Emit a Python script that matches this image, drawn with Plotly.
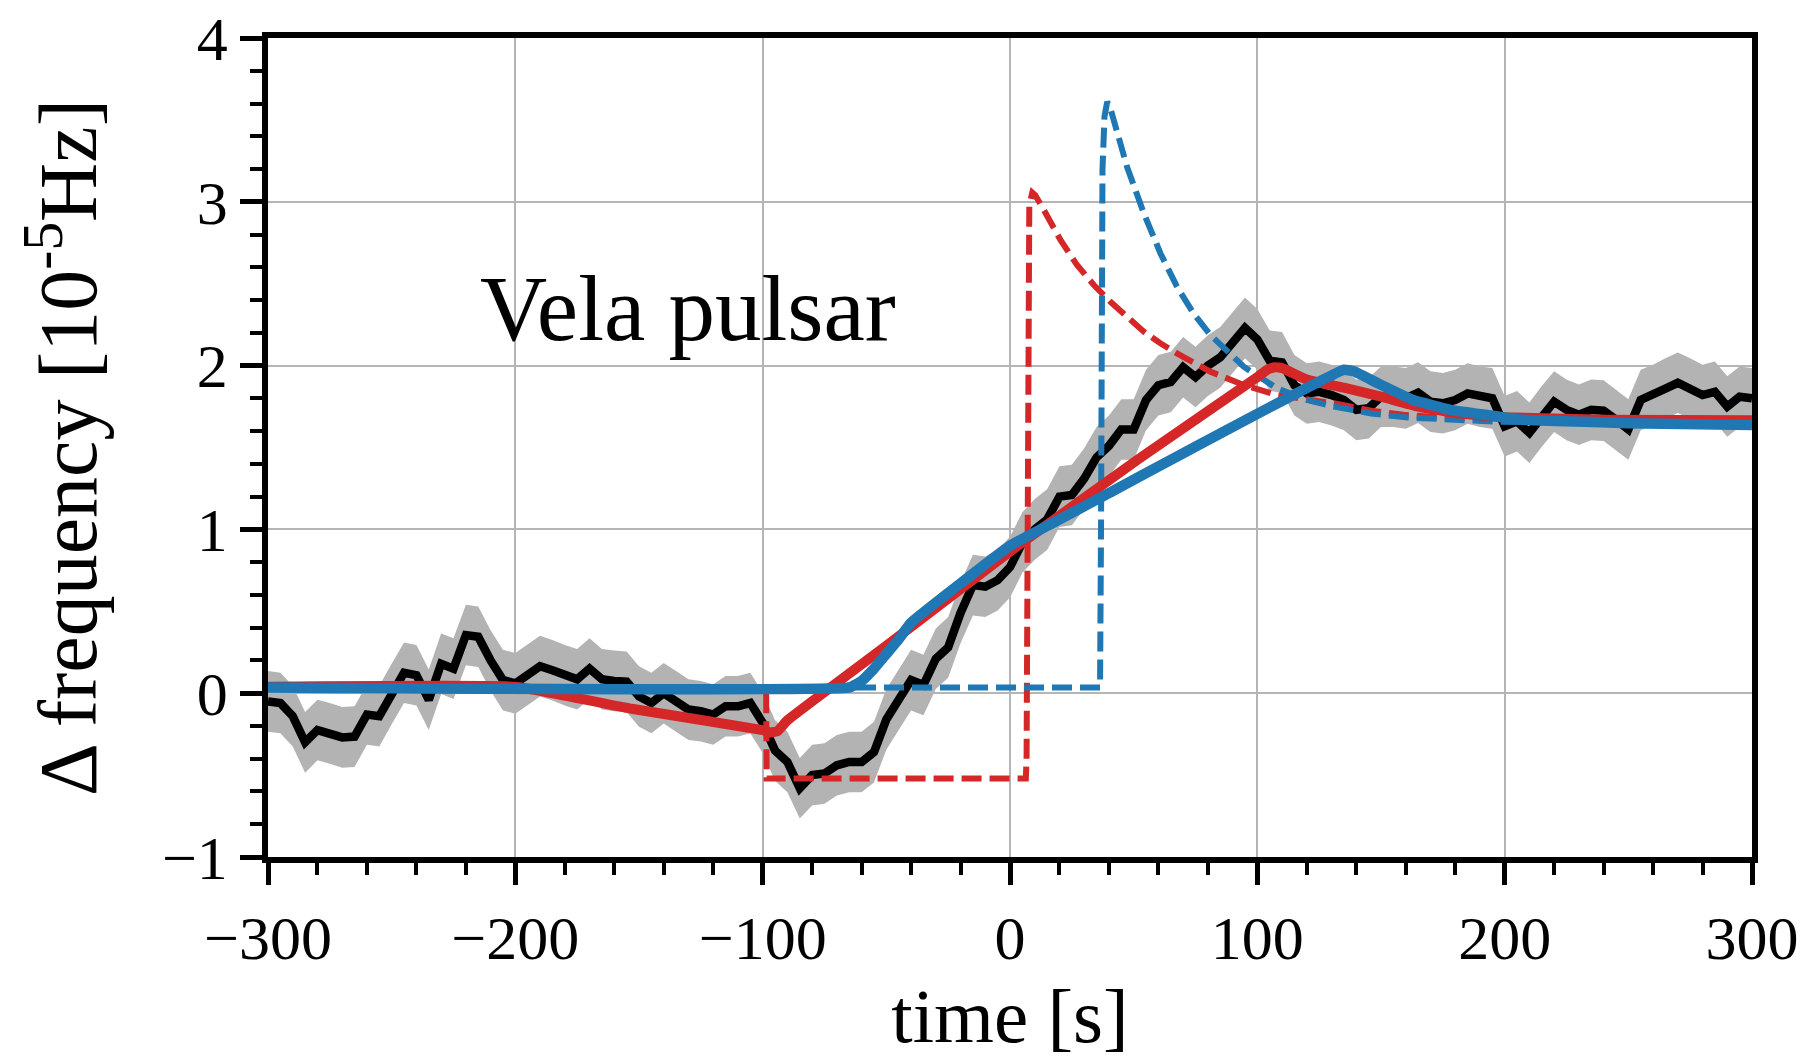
import plotly.graph_objects as go

# ---------------- data ----------------
t_obs = list(range(-300, 305, 5))
v_obs = [
    -0.05, -0.06, -0.14, -0.30, -0.225, -0.245, -0.27, -0.265, -0.13, -0.14,
    -0.005, 0.125, 0.11, -0.04, 0.18, 0.15, 0.355, 0.345, 0.20, 0.08,
    0.06, 0.11, 0.165, 0.14, 0.11, 0.085, 0.15, 0.085, 0.075, 0.07,
    -0.02, -0.06, 0.0, -0.05, -0.10, -0.11, -0.13, -0.08, -0.08, -0.06,
    -0.18, -0.35, -0.42, -0.58, -0.50, -0.49, -0.44, -0.42, -0.42, -0.36,
    -0.16, -0.04, 0.08, 0.05, 0.21, 0.28, 0.49, 0.66, 0.65, 0.69,
    0.77, 0.92, 1.00, 1.06, 1.20, 1.21, 1.31, 1.44, 1.51, 1.61,
    1.61, 1.79, 1.88, 1.90, 1.99, 1.93, 2.00, 2.05, 2.14, 2.23,
    2.16, 2.03, 2.02, 1.88, 1.83, 1.84, 1.82, 1.79, 1.73, 1.74,
    1.81, 1.81, 1.80, 1.835, 1.78, 1.77, 1.79, 1.83, 1.81, 1.80,
    1.63, 1.66, 1.59, 1.69, 1.78, 1.73, 1.70, 1.73, 1.725, 1.67,
    1.61, 1.79, 1.82, 1.86, 1.895, 1.86, 1.82, 1.84, 1.75, 1.81,
    1.80,
]
obs_err = 0.185  # half-width of the grey uncertainty band

# model A (red): smoothed fit and underlying model
t_red = [-300, -200, -153, -100, -97, -94, -90, -50, 0, 52, 100, 104, 107, 110,
         120, 135, 150, 165, 180, 200, 240, 300]
v_red = [0.039, 0.039, -0.095, -0.225, -0.24, -0.232, -0.165, 0.29, 0.865, 1.43, 1.93, 1.975,
         1.99, 1.985, 1.915, 1.865, 1.81, 1.75, 1.71, 1.685, 1.67, 1.667]
t_red_model = [-300, -98.6, -98.4, 6.4, 6.7, 7.2, 7.8, 9.0, 10.2, 13.7, 20.4, 27.1, 33.9, 40.6,
               47.3, 54.1, 60.8, 67.5, 81.0, 94.5, 108, 117, 131, 146, 159, 173, 200, 300]
v_red_model = [0.035, 0.035, -0.52, -0.52, -0.40, 2.70, 2.98, 3.056, 3.04, 2.95, 2.767, 2.614,
               2.492, 2.39, 2.295, 2.207, 2.136, 2.075, 1.963, 1.882, 1.82, 1.80, 1.77, 1.725,
               1.70, 1.684, 1.67, 1.66]

# model B (blue): smoothed fit and underlying model
t_blue = [-300, -65, -60, -55, -50, -45, -40, -20, 0, 18, 36, 135, 139, 149, 163, 178,
          192, 207, 250, 300]
v_blue = [0.035, 0.035, 0.075, 0.15, 0.24, 0.33, 0.43, 0.67, 0.90, 1.045, 1.19, 1.975, 1.965,
          1.89, 1.79, 1.73, 1.70, 1.67, 1.648, 1.637]
t_blue_model = [-300, 36.4, 36.8, 37.4, 38.2, 39.3, 40.6, 43.3, 47.3, 54.1, 60.8, 67.5, 74.2,
                81.0, 94.5, 108, 120, 131, 146, 160, 178, 197, 300]
v_blue_model = [0.035, 0.035, 1.0, 3.2, 3.52, 3.61, 3.57, 3.418, 3.214, 2.93, 2.686, 2.482,
                2.319, 2.187, 1.993, 1.861, 1.79, 1.75, 1.708, 1.684, 1.667, 1.657, 1.645]

x_ticks = [-300, -200, -100, 0, 100, 200, 300]
x_ticktext = ["\u2212300", "\u2212200", "\u2212100", "0", "100", "200", "300"]
y_ticks = [-1, 0, 1, 2, 3, 4]
y_ticktext = ["\u22121", "0", "1", "2", "3", "4"]

RED = "#d62728"
BLUE = "#1f77b4"
FONT = "Liberation Serif"

lower = [v - obs_err for v in v_obs]
upper = [v + obs_err for v in v_obs]

fig = go.Figure()
fig.add_trace(go.Scatter(x=t_obs, y=lower, mode="lines", line=dict(width=0),
                         hoverinfo="skip", showlegend=False))
fig.add_trace(go.Scatter(x=t_obs, y=upper, mode="lines", line=dict(width=0),
                         fill="tonexty", fillcolor="#b3b3b3", hoverinfo="skip",
                         showlegend=False))
fig.add_trace(go.Scatter(x=t_obs, y=v_obs, mode="lines",
                         line=dict(color="black", width=8.5), showlegend=False))
fig.add_trace(go.Scatter(x=t_red_model, y=v_red_model, mode="lines",
                         line=dict(color=RED, width=6, dash="20px,8px"),
                         showlegend=False))
fig.add_trace(go.Scatter(x=t_blue_model, y=v_blue_model, mode="lines",
                         line=dict(color=BLUE, width=6, dash="20px,8px"),
                         showlegend=False))
fig.add_trace(go.Scatter(x=t_red, y=v_red, mode="lines",
                         line=dict(color=RED, width=10, shape="spline", smoothing=0.3),
                         showlegend=False))
fig.add_trace(go.Scatter(x=t_blue, y=v_blue, mode="lines",
                         line=dict(color=BLUE, width=10.5, shape="spline", smoothing=0.3),
                         showlegend=False))

fig.add_annotation(x=-215, y=2.35, xref="x", yref="y", text="Vela pulsar",
                   showarrow=False, xanchor="left", yanchor="middle",
                   font=dict(family=FONT, size=93, color="black"))

axis_common = dict(
    showline=True, linewidth=5.5, linecolor="black", mirror=True,
    ticks="outside", ticklen=22, tickwidth=4.5, tickcolor="black",
    showgrid=True, gridcolor="#b5b5b5", gridwidth=1.5, zeroline=False,
    tickfont=dict(family=FONT, size=62, color="black"),
    automargin=False,
)

fig.update_layout(
    width=1810, height=1059,
    margin=dict(l=268, r=58, t=38, b=202),
    plot_bgcolor="white", paper_bgcolor="white",
    xaxis=dict(range=[-300, 300], tickvals=x_ticks, ticktext=x_ticktext,
               minor=dict(ticks="outside", ticklen=12, tickwidth=3.5, tickcolor="black",
                          dtick=20, tick0=0, showgrid=False),
               title=dict(text="time [s]", font=dict(family=FONT, size=77, color="black"),
                          standoff=20),
               **axis_common),
    yaxis=dict(range=[-1, 4], tickvals=y_ticks, ticktext=y_ticktext,
               minor=dict(ticks="outside", ticklen=12, tickwidth=3.5, tickcolor="black",
                          dtick=0.2, tick0=0, showgrid=False),
               title=dict(text="\u0394 frequency [10<sup>-5</sup>Hz]",
                          font=dict(family=FONT, size=82, color="black"), standoff=40),
               **axis_common),
    showlegend=False,
)

fig.write_html("out.html")
